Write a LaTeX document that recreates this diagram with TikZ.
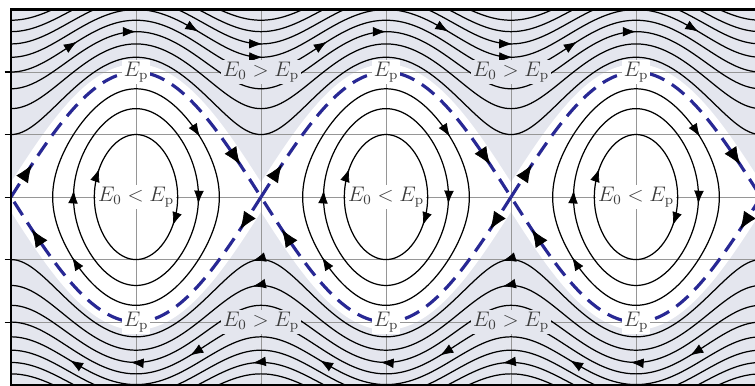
\documentclass[tikz,border=0pt]{standalone}
\usepackage{amsmath}
\usepackage{xcolor}
\usetikzlibrary{arrows.meta, decorations.markings}

\definecolor{phasebg}{RGB}{228,230,238}
\definecolor{sepblue}{RGB}{40,40,148}
\definecolor{gridgray}{RGB}{150,150,150}
\definecolor{lblgray}{RGB}{60,60,60}

\newcommand\rotw[2]{sqrt(2*((#1)+cos(#2)))}
\newcommand\libw[2]{sqrt(max(0,2*(cos((#1)*sin(#2))-cos(#1))))}

\begin{document}
\begin{tikzpicture}[
    x=0.0138889cm, y=1.25cm,
    traj/.style={black, line width=0.7pt},
    sepx/.style={sepblue, line width=1.8pt, dash pattern=on 9pt off 5pt},
    halo/.style={fill=white, draw=white, line width=9pt, line join=round},
    gridline/.style={gridgray, line width=0.5pt},
    flowtip/.style={decorate, decoration={markings, mark=at position 1 with {\arrow{Latex[length=7.5pt, width=5.5pt]}}}},
    septip/.style={sepblue, decorate, decoration={markings, mark=at position 1 with {\arrow{Latex[length=10pt, width=8pt]}}}},
    lbl/.style={text=lblgray, inner sep=1pt, font=\fontsize{11.5}{13}\selectfont}
]
    \useasboundingbox (-195.84,-3.008) rectangle (891.36,3.152);
    \fill[phasebg] (-180,-3) rectangle (900,3);

    \begin{scope}
        \clip (-180,-3) rectangle (900,3);
        \foreach \cx in {0,360,720}
            \path[halo, shift={(\cx,0)}] plot[domain=-180:180, samples=73] (\x,{2*cos(\x/2)})
                -- plot[domain=180:-180, samples=73] (\x,{-2*cos(\x/2)}) -- cycle;

        \foreach \yy in {-2,...,2}
            \draw[gridline] (-180,\yy) -- (900,\yy);
        \foreach \xx in {0,180,...,720}
            \draw[gridline] (\xx,-3) -- (\xx,3);

        % rotation
        \foreach \s in {1,-1}
            \foreach \en in {1.5,2,...,5.5}
                \draw[traj] plot[domain=-184:904, samples=273] (\x,{\s*\rotw{\en}{\x}});

        % libration
        \foreach \cx in {0,360,720}
            \foreach \A in {60,90,120}
                \draw[traj, shift={(\cx,0)}] plot[domain=-90:270, samples=145]
                    ({\A*sin(\x)},{(2*(cos(\x)>0)-1)*\libw{\A}{\x}}) -- cycle;

        \foreach \cx in {0,360,720} {
            \foreach \en/\t in {3/-85, 2.5/0, 3.5/90}
                \draw[flowtip] ({\cx+\t-1},{\rotw{\en}{\t-1}}) -- ({\cx+\t},{\rotw{\en}{\t}});
            \foreach \en/\t in {3.5/-95, 2.5/-8, 3/78}
                \draw[flowtip] ({\cx+\t+1},{-\rotw{\en}{\t+1}}) -- ({\cx+\t},{-\rotw{\en}{\t}});
            \foreach \A/\p in {60/-62, 60/118, 90/-85, 90/95, 120/50, 120/230}
                \draw[flowtip] ({\cx+\A*sin(\p-2)},{(2*(cos(\p-2)>0)-1)*\libw{\A}{\p-2}})
                    -- ({\cx+\A*sin(\p)},{(2*(cos(\p)>0)-1)*\libw{\A}{\p}});
        }
        \foreach \xx in {180,540}
            \foreach \en in {1.5,2,4.5} {
                \draw[flowtip] ({\xx+1},{\rotw{\en}{1}}) -- ({\xx+2},{\rotw{\en}{2}});
                \draw[flowtip] ({\xx-11},{-\rotw{\en}{169}}) -- ({\xx-12},{-\rotw{\en}{168}});
            }

        % separatrix
        \foreach \cx in {0,360,720} {
            \draw[sepx, shift={(\cx,0)}] plot[domain=-180:180, samples=91] (\x,{2*cos(\x/2)});
            \draw[sepx, shift={(\cx,0)}] plot[domain=180:-180, samples=91] (\x,{-2*cos(\x/2)});
            \draw[septip] ({\cx-151},{2*cos(75.5)}) -- ({\cx-150},{2*cos(75)});
            \draw[septip] ({\cx+149},{2*cos(74.5)}) -- ({\cx+150},{2*cos(75)});
            \draw[septip] ({\cx+151},{-2*cos(75.5)}) -- ({\cx+150},{-2*cos(75)});
            \draw[septip] ({\cx-149},{-2*cos(74.5)}) -- ({\cx-150},{-2*cos(75)});
        }
    \end{scope}

    \foreach \cx in {0,360,720} {
        \node[lbl, fill=white] (ep-up-\cx) at (\cx,2) {$E_{\mathrm{p}}$};
        \node[lbl, fill=white] (ep-dn-\cx) at (\cx,-2) {$E_{\mathrm{p}}$};
        \node[lbl, fill=white] (lib-\cx) at (\cx,0) {$E_0<E_{\mathrm{p}}$};
    }
    \foreach \xx in {180,540} {
        \node[lbl, fill=phasebg] (rot-up-\xx) at (\xx,2) {$E_0>E_{\mathrm{p}}$};
        \node[lbl, fill=phasebg] (rot-dn-\xx) at (\xx,-2) {$E_0>E_{\mathrm{p}}$};
    }

    \draw[line width=1.2pt] (900,3) -- (-180,3) -- (-180,-3) -- (900,-3);
    \foreach \yy in {-2,...,2}
        \draw[line width=0.6pt] (-189,\yy) -- (-180,\yy);
\end{tikzpicture}
\end{document}
